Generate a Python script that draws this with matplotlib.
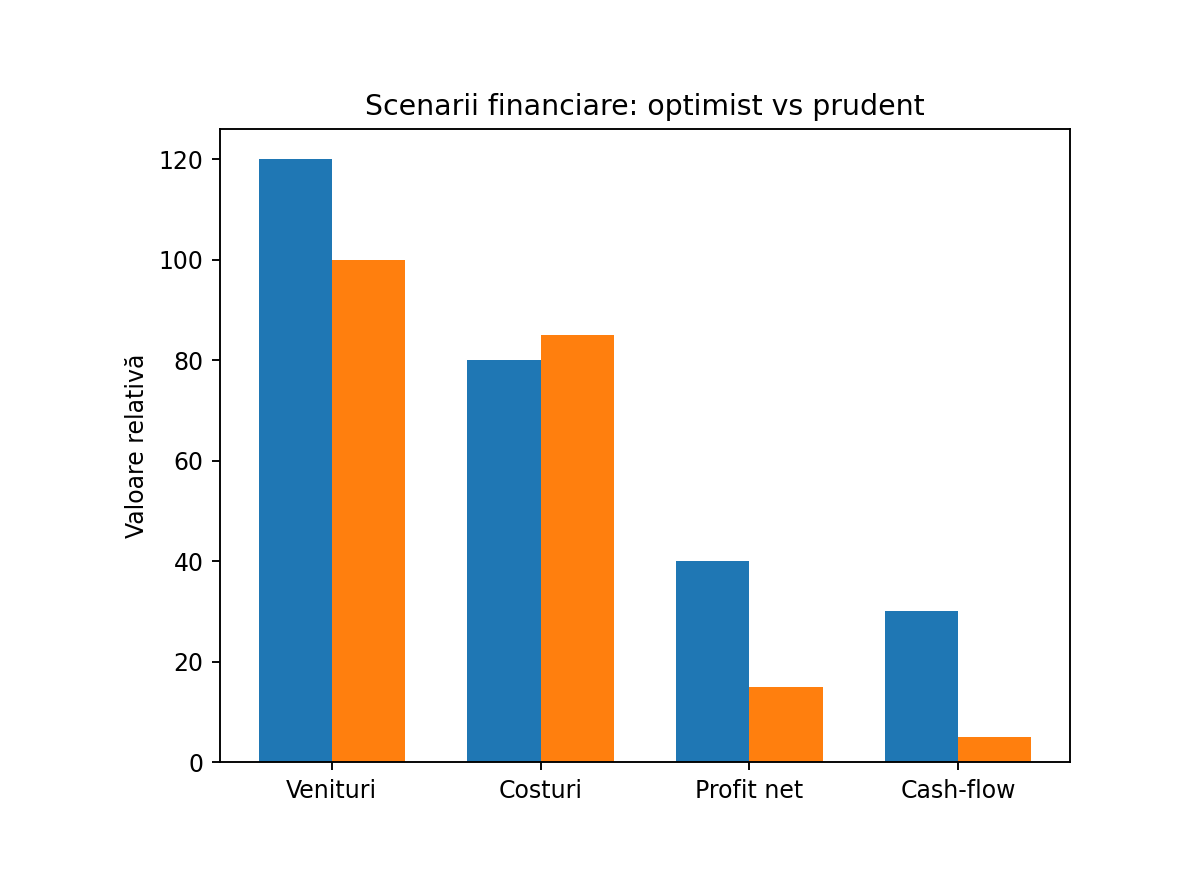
import numpy as np
import matplotlib.pyplot as plt

categorii = ["Venituri", "Costuri", "Profit net", "Cash-flow"]
optimist = [120, 80, 40, 30]
prudent = [100, 85, 15, 5]

x = np.arange(len(categorii))
latime = 0.35

dpi = 170
fig = plt.figure(figsize=(1200 / dpi, 876 / dpi), dpi=dpi)
ax = fig.add_axes([220 / 1200, 1 - 762 / 876, 850 / 1200, 633 / 876])
ax.bar(x - latime / 2, optimist, latime, label="Optimist")
ax.bar(x + latime / 2, prudent, latime, label="Prudent")
ax.set_xticks(x)
ax.set_xticklabels(categorii)
ax.set_ylabel("Valoare relativă")
ax.set_title("Scenarii financiare: optimist vs prudent")

fig.savefig("out.png")
